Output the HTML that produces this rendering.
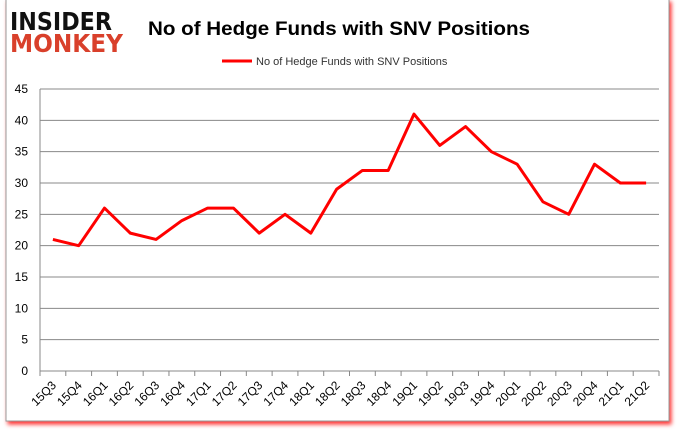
<!DOCTYPE html>
<html><head><meta charset="utf-8"><style>
body{margin:0;width:678px;height:431px;background:#fff;overflow:hidden;font-family:"Liberation Sans",sans-serif}
</style></head><body>
<svg width="678" height="431">
<rect x="6" y="-1" width="663" height="422" fill="#fff" stroke="#999" style="filter:drop-shadow(2px 3px 2px rgba(255,0,0,0.8))"/>
<g font-family="DejaVu Sans" font-weight="bold">
<text x="10" y="30" font-size="25" fill="#111" textLength="102" lengthAdjust="spacingAndGlyphs">INSIDER</text>
<text x="10" y="52" font-size="25" fill="#d9402b" textLength="113" lengthAdjust="spacingAndGlyphs">MONKEY</text>
</g>
<text x="339" y="35" font-size="19" font-weight="bold" text-anchor="middle" fill="#000" textLength="382" lengthAdjust="spacingAndGlyphs">No of Hedge Funds with SNV Positions</text>
<g>
<line x1="222" y1="61" x2="252" y2="61" stroke="#f00" stroke-width="3"/>
<text x="256" y="65" font-size="11" fill="#333">No of Hedge Funds with SNV Positions</text>
</g>
<g id="grid"></g><g id="axes"></g><g id="series"></g>
</svg>
<script>
const categories=["15Q3","15Q4","16Q1","16Q2","16Q3","16Q4","17Q1","17Q2","17Q3","17Q4","18Q1","18Q2","18Q3","18Q4","19Q1","19Q2","19Q3","19Q4","20Q1","20Q2","20Q3","20Q4","21Q1","21Q2"];
const values=[21,20,26,22,21,24,26,26,22,25,22,29,32,32,41,36,39,35,33,27,25,33,30,30];
const yTicks=[0,5,10,15,20,25,30,35,40,45];
const ns="http://www.w3.org/2000/svg";
const L=40,R=659,T=89,B=371,yMax=45;
const step=(R-L)/categories.length;
const x=i=>L+step*(i+0.5);
const y=v=>B-(v/yMax)*(B-T);
function mk(t,a,p){const e=document.createElementNS(ns,t);for(const k in a)e.setAttribute(k,a[k]);p.appendChild(e);return e;}
const grid=document.getElementById('grid'),axes=document.getElementById('axes'),series=document.getElementById('series');
yTicks.forEach(v=>{
 if(v>0){const g=mk('line',{x1:L,x2:R,y1:y(v),y2:y(v),stroke:'#888','stroke-width':1},grid);
 
 }
 const t=mk('text',{x:L-12,y:y(v)+4,'font-size':12,'text-anchor':'end',fill:'#000'},axes);t.textContent=v;
 
 
});
const ax=mk('path',{d:`M${L},${T}V${B}H${R}`,stroke:'#888',fill:'none'},axes);


categories.forEach((c,i)=>{
 mk('line',{x1:L+step*i,x2:L+step*i,y1:B,y2:B+5,stroke:'#888'},axes);
 const cx=x(i)+4,cy=B+15;
 const t=mk('text',{x:cx,y:cy,'font-size':12,'text-anchor':'end',fill:'#000',transform:`rotate(-45 ${cx} ${cy})`},axes);
 t.textContent=c;
 
 
});
mk('line',{x1:R,x2:R,y1:B,y2:B+5,stroke:'#888'},axes);
const line=mk('polyline',{points:values.map((v,i)=>x(i)+','+y(v)).join(' '),fill:'none',stroke:'#f00','stroke-width':3,'stroke-linejoin':'round'},series);


</script>
</body></html>
